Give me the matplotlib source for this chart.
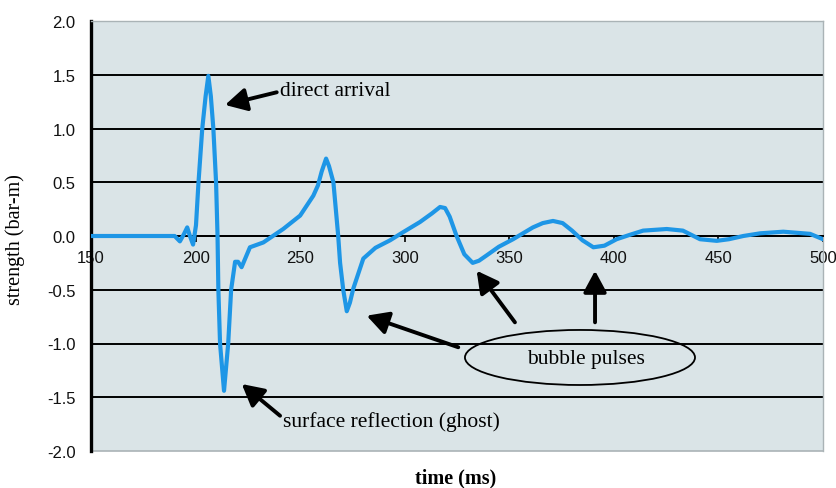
import matplotlib
matplotlib.use("Agg")
import matplotlib.pyplot as plt
from matplotlib.patches import Ellipse

# ---- data ----
time_ms = [150, 187, 190, 192.5, 194.5, 196, 197.3, 198.8, 200.2, 201.4, 203.2, 204.8,
           206.1, 207.3, 208.5, 209.8, 210.5, 210.9, 211.7, 213.6, 215.6, 217.0,
           218.9, 220.3, 222, 226, 232.4, 241.9, 250, 256.3, 258.5, 260.3, 262.4,
           263.8, 265.9, 268.2, 269.1, 270.6, 272.3, 273.8, 275.4, 280.2, 286,
           293, 299.2, 307.3, 313, 316.9, 319.3, 321.5, 324.8, 328.5, 332.5, 335.5,
           339.2, 345, 351.8, 361.3, 366, 370.9, 375.5, 380, 385, 390.2, 395.5,
           401.3, 407.5, 414, 425.3, 433, 441.2, 449.2, 455, 461.9, 470, 481,
           493.8, 500]
strength = [0.0, 0.0, 0.0, -0.05, 0.02, 0.08, 0.0, -0.08, 0.1, 0.5, 1.0, 1.3,
            1.49, 1.3, 1.0, 0.5, 0.0, -0.5, -1.0, -1.44, -1.0, -0.5,
            -0.24, -0.24, -0.29, -0.105, -0.06, 0.065, 0.19, 0.375, 0.47, 0.6, 0.72,
            0.65, 0.5, 0.0, -0.25, -0.5, -0.7, -0.62, -0.49, -0.21, -0.11,
            -0.04, 0.035, 0.13, 0.21, 0.27, 0.26, 0.18, 0.0, -0.17, -0.25, -0.23,
            -0.18, -0.1, -0.03, 0.08, 0.12, 0.14, 0.12, 0.05, -0.04, -0.105, -0.09,
            -0.03, 0.01, 0.05, 0.065, 0.05, -0.03, -0.045, -0.03, 0.0, 0.025, 0.04,
            0.02, -0.03]

x_ticks = [150, 200, 250, 300, 350, 400, 450, 500]
y_ticks = [-2.0, -1.5, -1.0, -0.5, 0.0, 0.5, 1.0, 1.5, 2.0]

x_label = "time (ms)"
y_label = "strength (bar-m)"

# ---- figure ----
W, H, DPI = 837, 489, 100
fig = plt.figure(figsize=(W / DPI, H / DPI), dpi=DPI)
fig.patch.set_facecolor("white")
ax = fig.add_axes([91 / W, 1 - 452 / H, (823 - 91) / W, (452 - 22) / H])
ax.set_facecolor("#dae4e7")

ax.set_xlim(150, 500)
ax.set_ylim(-2.0, 2.0)

# horizontal grid lines (inner ticks)
for yv in y_ticks[1:-1]:
    ax.axhline(yv, color="black", lw=1.4, zorder=1)

ax.plot(time_ms, strength, color="#1e96e6", lw=3.0, zorder=3,
        solid_joinstyle="round", solid_capstyle="round")

# spines
ax.spines["left"].set_color("black")
ax.spines["left"].set_linewidth(2.4)
for s in ("top", "right"):
    ax.spines[s].set_color("#aab3b6")
    ax.spines[s].set_linewidth(1.0)
ax.spines["bottom"].set_position(("data", 0))
ax.spines["bottom"].set_color("black")
ax.spines["bottom"].set_linewidth(1.4)
ax.axhline(-2.0, color="#aab3b6", lw=1.2, clip_on=False, zorder=2)

tick_font = dict(family=["Liberation Sans", "DejaVu Sans"], size=12)
ax.set_xticks(x_ticks)
ax.set_xticklabels([str(v) for v in x_ticks], fontdict=tick_font, color="#111111")
ax.set_yticks(y_ticks)
ax.set_yticklabels([f"{v:.1f}" for v in y_ticks], fontdict=tick_font, color="#111111")
ax.tick_params(axis="x", direction="out", length=4, width=1.2, pad=6, color="black")
ax.tick_params(axis="y", length=0, pad=11)

serif = ["Liberation Serif", "DejaVu Serif"]
ax.set_xlabel(x_label, family=serif, fontsize=14.5, fontweight="bold")
ax.xaxis.set_label_coords(0.4986, -0.062)
ax.xaxis.label.set_va("center")
ax.set_ylabel(y_label, family=serif, fontsize=14.5)
ax.yaxis.set_label_coords(-0.104, 0.493)
ax.yaxis.label.set_va("center")

# annotations
arrow = dict(arrowstyle="-|>,head_length=0.65,head_width=0.35", lw=2.8,
             color="black", shrinkA=0, shrinkB=0, mutation_scale=20)
ax.text(240.4, 1.349, "direct arrival", family=serif, fontsize=15.5,
        ha="left", va="center", zorder=5)
ax.annotate("", xy=(214.1, 1.219), xytext=(238.8, 1.337), arrowprops=arrow, zorder=5)

ax.text(241.8, -1.721, "surface reflection (ghost)", family=serif, fontsize=15.5,
        ha="left", va="center", zorder=5)
ax.annotate("", xy=(222.1, -1.377), xytext=(240.4, -1.672), arrowprops=arrow, zorder=5)

ax.add_patch(Ellipse((383.8, -1.130), 110, 0.512, facecolor="none",
                     edgecolor="black", lw=1.3, zorder=5))
ax.text(386.7, -1.135, "bubble pulses", family=serif, fontsize=15.5,
        ha="center", va="center", zorder=5)
ax.annotate("", xy=(281.8, -0.741), xytext=(325.6, -1.035), arrowprops=arrow, zorder=5)
ax.annotate("", xy=(334.4, -0.323), xytext=(352.7, -0.803), arrowprops=arrow, zorder=5)
ax.annotate("", xy=(391.0, -0.323), xytext=(391.0, -0.803), arrowprops=arrow, zorder=5)

fig.savefig("out.png", dpi=DPI)
